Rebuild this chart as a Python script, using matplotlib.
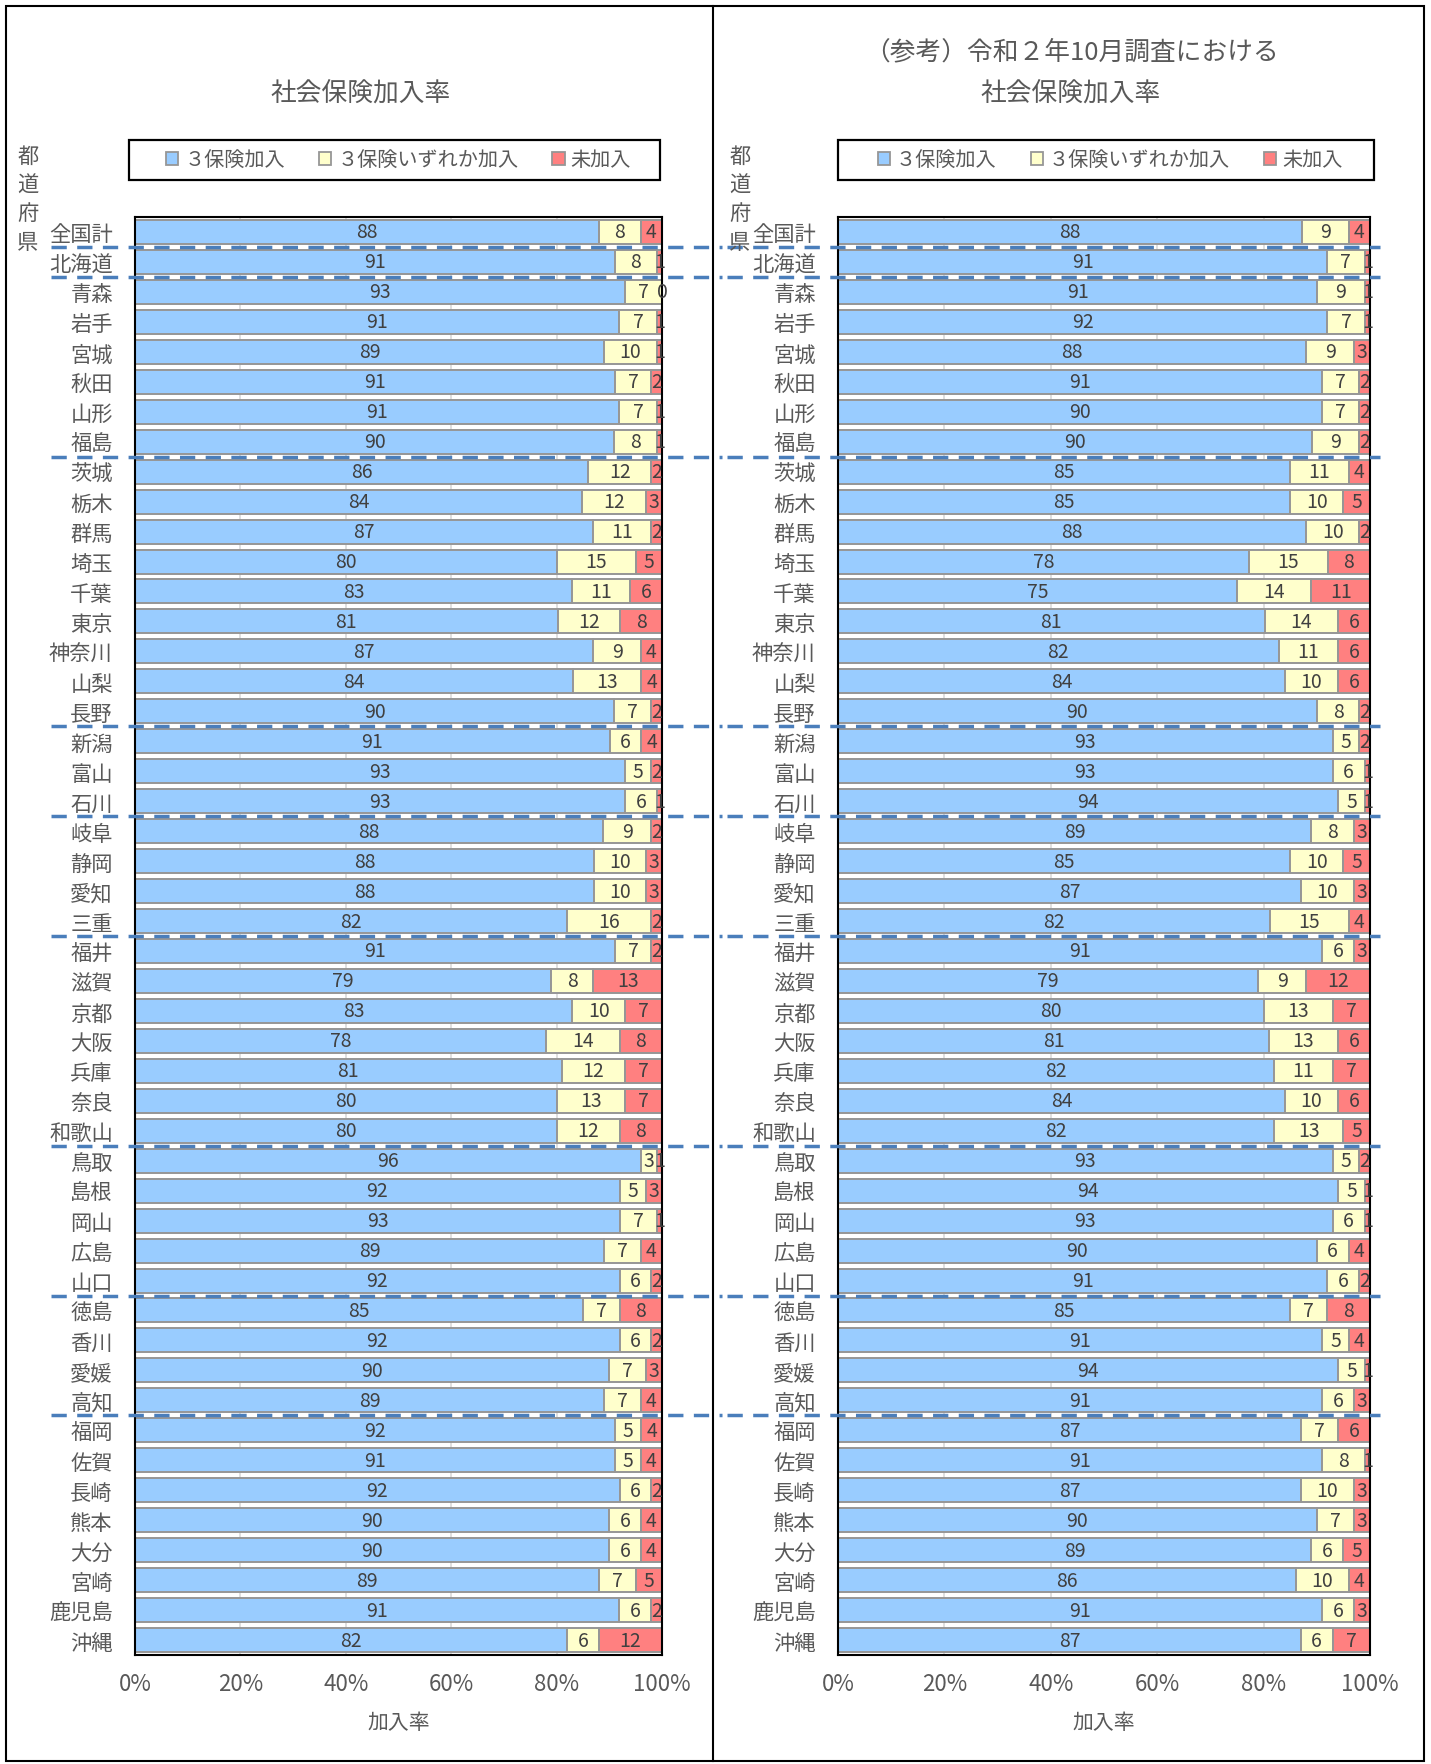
import matplotlib
matplotlib.use("Agg")
import matplotlib.pyplot as plt
import matplotlib.transforms as mtransforms
from matplotlib.patches import Patch, Rectangle
from matplotlib.lines import Line2D
import numpy as np

plt.rcParams['font.family'] = ['Noto Sans CJK JP', 'DejaVu Sans']

prefs = ["全国計", "北海道", "青森", "岩手", "宮城", "秋田", "山形", "福島",
         "茨城", "栃木", "群馬", "埼玉", "千葉", "東京", "神奈川", "山梨", "長野",
         "新潟", "富山", "石川", "岐阜", "静岡", "愛知", "三重",
         "福井", "滋賀", "京都", "大阪", "兵庫", "奈良", "和歌山",
         "鳥取", "島根", "岡山", "広島", "山口",
         "徳島", "香川", "愛媛", "高知",
         "福岡", "佐賀", "長崎", "熊本", "大分", "宮崎", "鹿児島", "沖縄"]

# current survey
cur_all3 = [88, 91, 93, 91, 89, 91, 91, 90,
            86, 84, 87, 80, 83, 81, 87, 84, 90,
            91, 93, 93, 88, 88, 88, 82,
            91, 79, 83, 78, 81, 80, 80,
            96, 92, 93, 89, 92,
            85, 92, 90, 89,
            92, 91, 92, 90, 90, 89, 91, 82]
cur_some = [8, 8, 7, 7, 10, 7, 7, 8,
            12, 12, 11, 15, 11, 12, 9, 13, 7,
            6, 5, 6, 9, 10, 10, 16,
            7, 8, 10, 14, 12, 13, 12,
            3, 5, 7, 7, 6,
            7, 6, 7, 7,
            5, 5, 6, 6, 6, 7, 6, 6]
cur_none = [4, 1, 0, 1, 1, 2, 1, 1,
            2, 3, 2, 5, 6, 8, 4, 4, 2,
            4, 2, 1, 2, 3, 3, 2,
            2, 13, 7, 8, 7, 7, 8,
            1, 3, 1, 4, 2,
            8, 2, 3, 4,
            4, 4, 2, 4, 4, 5, 2, 12]

# R2 October survey (reference)
r2_all3 = [88, 91, 91, 92, 88, 91, 90, 90,
           85, 85, 88, 78, 75, 81, 82, 84, 90,
           93, 93, 94, 89, 85, 87, 82,
           91, 79, 80, 81, 82, 84, 82,
           93, 94, 93, 90, 91,
           85, 91, 94, 91,
           87, 91, 87, 90, 89, 86, 91, 87]
r2_some = [9, 7, 9, 7, 9, 7, 7, 9,
           11, 10, 10, 15, 14, 14, 11, 10, 8,
           5, 6, 5, 8, 10, 10, 15,
           6, 9, 13, 13, 11, 10, 13,
           5, 5, 6, 6, 6,
           7, 5, 5, 6,
           7, 8, 10, 7, 6, 10, 6, 6]
r2_none = [4, 1, 1, 1, 3, 2, 2, 2,
           4, 5, 2, 8, 11, 6, 6, 6, 2,
           2, 1, 1, 3, 5, 3, 4,
           3, 12, 7, 6, 7, 6, 5,
           2, 1, 1, 4, 2,
           8, 4, 1, 3,
           6, 1, 3, 3, 5, 4, 3, 7]

series_names = ["３保険加入", "３保険いずれか加入", "未加入"]
colors = ["#99CCFF", "#FFFFCC", "#FF8080"]
edge = "#969696"
txt = "#595959"
group_ends = [0, 1, 7, 16, 19, 23, 30, 35, 39]

W, H = 1431, 1765
fig = plt.figure(figsize=(W / 100, H / 100), dpi=100)


def fx(px):
    return px / W


def fy(py):
    return 1 - py / H


def draw_panel(ax, values, dash_x):
    data = np.array(values, dtype=float).T
    shares = data / data.sum(axis=1, keepdims=True) * 100
    y = np.arange(len(prefs))
    left = np.zeros(len(prefs))
    for k in range(3):
        ax.barh(y, shares[:, k], left=left, height=0.8, color=colors[k],
                edgecolor=edge, linewidth=1.4, zorder=2)
        for i in range(len(prefs)):
            ax.text(left[i] + shares[i, k] / 2, y[i], f"{int(data[i, k])}",
                    ha="center", va="center", fontsize=14, color="#404040", zorder=6)
        left += shares[:, k]
    ax.set_xlim(0, 100)
    ax.set_ylim(len(prefs) - 0.5, -0.5)
    ax.set_yticks(y)
    ax.set_yticklabels(prefs, fontsize=15.3, color=txt)
    ax.set_xticks(np.arange(0, 101, 20))
    ax.set_xticklabels([f"{v}%" for v in range(0, 101, 20)], fontsize=16, color=txt)
    ax.tick_params(axis="y", length=0, pad=16)
    ax.tick_params(axis="x", length=0, pad=12)
    ax.grid(axis="x", color="#D9D9D9", linewidth=1.2)
    ax.set_axisbelow(True)
    for s in ax.spines.values():
        s.set_color("black")
        s.set_linewidth(1.5)
    ax.set_xlabel("加入率", fontsize=15, color=txt, labelpad=12)
    trans = mtransforms.blended_transform_factory(fig.transFigure, ax.transData)
    for g in group_ends:
        ax.add_line(Line2D([fx(dash_x[0]), fx(dash_x[1])], [g + 0.5, g + 0.5],
                           transform=trans, color="#4A7EBB", linewidth=2.5,
                           dashes=(4.4, 3.0), clip_on=False, zorder=5))


ax1 = fig.add_axes([fx(135), fy(1656), fx(662 - 135), (1656 - 218) / H])
ax2 = fig.add_axes([fx(838), fy(1656), fx(1370 - 838), (1656 - 218) / H])

draw_panel(ax1, [cur_all3, cur_some, cur_none], (51, 722))
draw_panel(ax2, [r2_all3, r2_some, r2_none], (727, 1380))

# titles
fig.text(fx(361), fy(95), "社会保険加入率", ha="center", va="center", fontsize=18.5, color=txt)
fig.text(fx(1071), fy(52), "（参考）令和２年10月調査における", ha="center", va="center",
         fontsize=18.5, color=txt)
fig.text(fx(1071), fy(95), "社会保険加入率", ha="center", va="center", fontsize=18.5, color=txt)

# vertical "都道府県"
for x0 in (28, 740):
    for j, ch in enumerate("都道府県"):
        fig.text(fx(x0), fy(157 + j * 28.7), ch, ha="center", va="center",
                 fontsize=15.3, color=txt)

# legends: frame drawn separately, items centred inside it
handles = [Patch(facecolor=c, edgecolor=edge, linewidth=1.3) for c in colors]
for x0, x1 in ((129, 660), (838, 1374)):
    fig.add_artist(Rectangle((fx(x0), fy(181)), fx(x1 - x0), (181 - 141) / H,
                             transform=fig.transFigure, fill=False,
                             edgecolor="black", linewidth=1.6))
    leg = fig.legend(handles, series_names, loc="center", ncol=3,
                     bbox_to_anchor=(fx((x0 + x1) / 2 + 4), fy(161)),
                     fontsize=14.5, frameon=False, handlelength=0.6,
                     handleheight=0.6, handletextpad=0.3, columnspacing=1.7,
                     borderaxespad=0)
    for t in leg.get_texts():
        t.set_color(txt)

# outer frame and divider
fig.add_artist(Rectangle((fx(6), fy(1762)), fx(1424 - 6), (1762 - 7) / H,
                         transform=fig.transFigure, fill=False, edgecolor="black", linewidth=1.5))
fig.add_artist(Line2D([fx(713), fx(713)], [fy(1762), fy(7)], transform=fig.transFigure,
                      color="black", linewidth=1.5))

fig.savefig("out.png", dpi=100)
